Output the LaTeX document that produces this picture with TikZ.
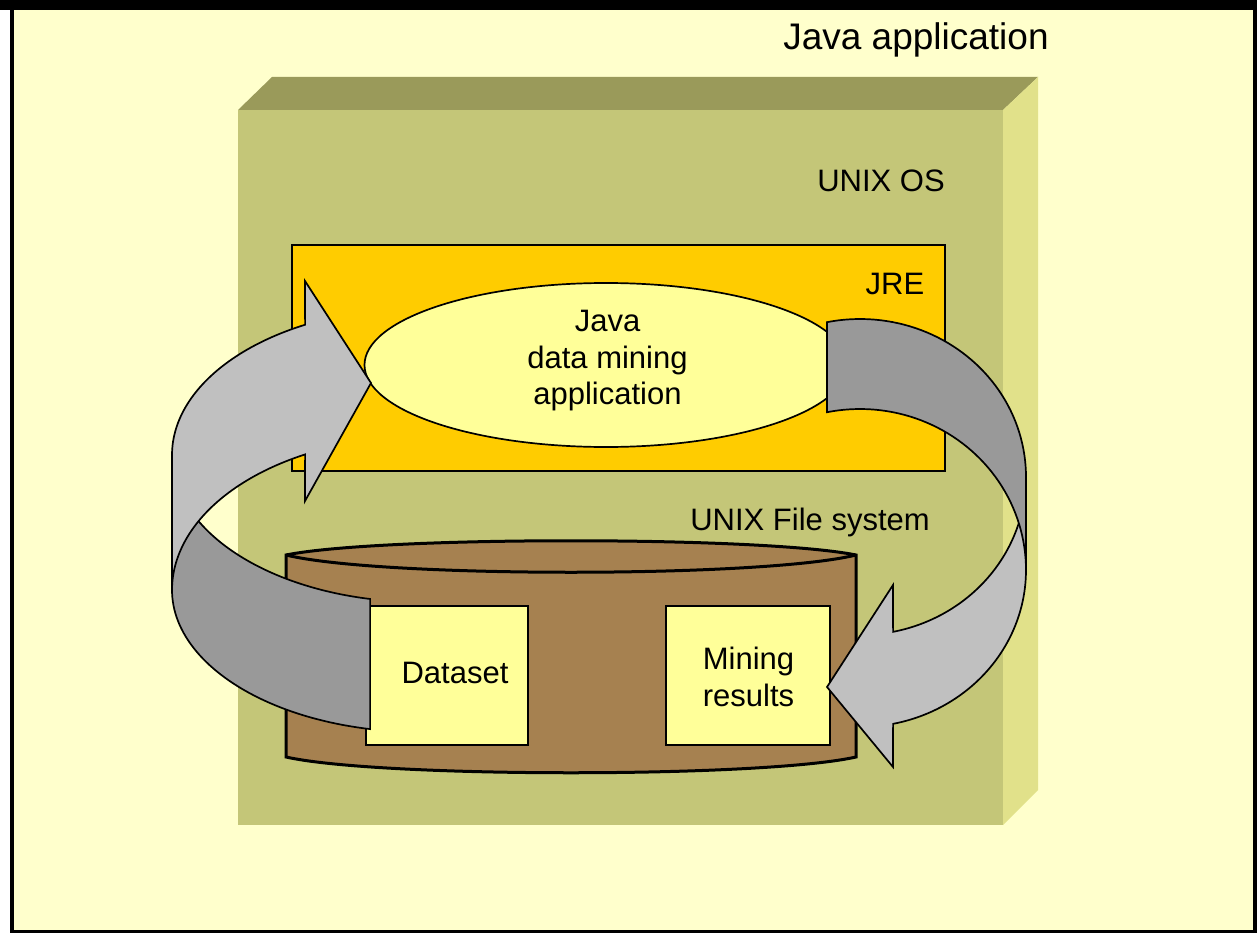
\documentclass[tikz,border=0pt]{standalone}
\usepackage{fontspec}
\setmainfont{Liberation Sans}
\usetikzlibrary{shapes.geometric}
\definecolor{bg}{HTML}{FFFFCC}
\definecolor{frontface}{HTML}{C4C678}
\definecolor{topface}{HTML}{9A9A5A}
\definecolor{sideface}{HTML}{E1E18A}
\definecolor{jrecol}{HTML}{FFCC00}
\definecolor{pale}{HTML}{FFFF99}
\definecolor{browncol}{HTML}{A68150}
\definecolor{lgray}{HTML}{C0C0C0}
\definecolor{dgray}{HTML}{999999}
\begin{document}
\begin{tikzpicture}[x=1pt,y=-1pt,
  lbl/.style={inner sep=0pt, font=\fontsize{31}{36.5}\selectfont, text=black, align=center},
  outl/.style={draw=black, line width=1.7pt, line join=miter},
  boxnode/.style={outl, rectangle, inner sep=0pt, outer sep=0pt},
  arrowpart/.style={draw=black, line width=1.7pt, line join=miter}]
\useasboundingbox (0,0) rectangle (1257,933);
% frame
\fill[white] (0,0) rectangle (1257,933);
\fill[black] (10,0) rectangle (1257,933);
\fill[black] (0,0) rectangle (1257,10);
\fill[bg] (14,10) rectangle (1253,930);
\node[lbl, anchor=base, font=\fontsize{37}{40}\selectfont] (japp) at (916,50) {Java application};
% 3D box (UNIX OS)
\fill[frontface] (238,110) rectangle (1003,825);
\fill[topface] (238,110) -- (272,77) -- (1038,77) -- (1003,110) -- cycle;
\fill[sideface] (1003,110) -- (1038,77) -- (1038,790) -- (1003,825) -- cycle;
\node[lbl, anchor=base] (unixos) at (881,192) {UNIX OS};
% JRE
\node[boxnode, fill=jrecol, minimum width=653pt, minimum height=226pt] (jre) at (618.5,358) {};
\node[lbl, anchor=base] (jrelbl) at (895,294) {JRE};
% application ellipse
\node[outl, ellipse, fill=pale, inner sep=0pt, minimum width=483pt, minimum height=164pt] (app) at (606,365) {};
\node[lbl] (applbl) at (607.5,360.6) {Java\\data mining\\application};
% file system
\node[lbl, anchor=base] (fslbl) at (810,530) {UNIX File system};
\fill[browncol] (286,555) -- (286,757) .. controls (380,778) and (762,778) .. (856,757) -- (856,555) .. controls (762,536) and (380,536) .. (286,555) -- cycle;
\draw[line width=3pt, line join=miter] (286,555) -- (286,757) .. controls (380,778) and (762,778) .. (856,757) -- (856,555) .. controls (762,536) and (380,536) .. (286,555) -- cycle;
\draw[line width=3pt] (286,555) .. controls (380,578) and (762,578) .. (856,555);
\coordinate (fs) at (571,650);
\node[boxnode, fill=pale, minimum width=162pt, minimum height=139pt] (dataset) at (447,675.5) {};
\node[lbl, anchor=base] (dslbl) at (455,683) {Dataset};
\node[boxnode, fill=pale, minimum width=164pt, minimum height=139pt] (results) at (748,675.5) {};
\node[lbl] (reslbl) at (748.5,677) {Mining\\results};
% left curved arrow (dataset -> application)
\fill[dgray] plot[domain=180:101.6, samples=50, variable=\t] ({420+248*cos(\t)},{455+147*sin(\t)})
  -- plot[domain=101.6:180, samples=50, variable=\t] ({420+248*cos(\t)},{590+142*sin(\t)}) -- cycle;
\draw[arrowpart] plot[domain=180:101.6, samples=50, variable=\t] ({420+248*cos(\t)},{455+147*sin(\t)})
  -- plot[domain=101.6:180, samples=50, variable=\t] ({420+248*cos(\t)},{590+142*sin(\t)}) -- cycle;
\fill[lgray] (172,590) -- plot[domain=180:242.4, samples=50, variable=\t] ({420+248*cos(\t)},{455+147*sin(\t)})
  -- (305,281) -- (371,383) -- (305,501)
  -- plot[domain=242.4:180, samples=50, variable=\t] ({420+248*cos(\t)},{590+153*sin(\t)}) -- cycle;
\draw[arrowpart] (172,590) -- plot[domain=180:242.4, samples=50, variable=\t] ({420+248*cos(\t)},{455+147*sin(\t)})
  -- (305,281) -- (371,383) -- (305,501)
  -- plot[domain=242.4:180, samples=50, variable=\t] ({420+248*cos(\t)},{590+153*sin(\t)}) -- cycle;
% right curved arrow (application -> results)
\fill[lgray] (1026,477) -- plot[domain=0:78.5, samples=50, variable=\t] ({860+166*cos(\t)},{570+157*sin(\t)})
  -- (893,767) -- (827,687) -- (893,585)
  -- plot[domain=78.5:0, samples=50, variable=\t] ({860+166*cos(\t)},{477+158*sin(\t)}) -- cycle;
\draw[arrowpart] (1026,477) -- plot[domain=0:78.5, samples=50, variable=\t] ({860+166*cos(\t)},{570+157*sin(\t)})
  -- (893,767) -- (827,687) -- (893,585)
  -- plot[domain=78.5:0, samples=50, variable=\t] ({860+166*cos(\t)},{477+158*sin(\t)}) -- cycle;
\fill[dgray] plot[domain=258.5:360, samples=50, variable=\t] ({860+166*cos(\t)},{477+158*sin(\t)})
  -- plot[domain=360:258.5, samples=50, variable=\t] ({860+166*cos(\t)},{570+161*sin(\t)}) -- cycle;
\draw[arrowpart] plot[domain=258.5:360, samples=50, variable=\t] ({860+166*cos(\t)},{477+158*sin(\t)})
  -- plot[domain=360:258.5, samples=50, variable=\t] ({860+166*cos(\t)},{570+161*sin(\t)}) -- cycle;
\end{tikzpicture}
\end{document}
